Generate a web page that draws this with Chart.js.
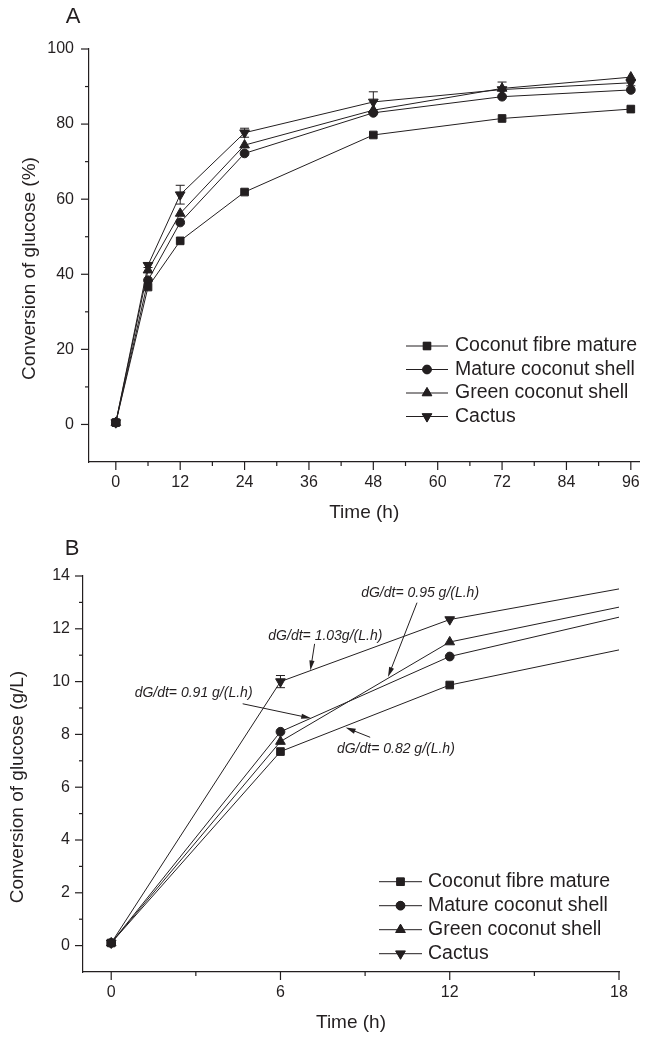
<!DOCTYPE html>
<html>
<head>
<meta charset="utf-8">
<script src="https://cdn.jsdelivr.net/npm/chart.js@4.4.1/dist/chart.umd.min.js"></script>
<style>
  body { margin: 0; background: #fff; }
  .panel { position: absolute; left: 0; }
</style>
</head>
<body>
<div class="panel" style="top:0"><canvas id="chartA" width="646" height="525"></canvas></div>
<div class="panel" style="top:525px"><canvas id="chartB" width="646" height="513"></canvas></div>
<script>
const INK = '#231f20';
const FONT = '"Liberation Sans", Arial, Helvetica, sans-serif';

const SERIES_NAMES = ['Coconut fibre mature', 'Mature coconut shell', 'Green coconut shell', 'Cactus'];

// --- panel A: conversion (%) vs time ---
const timeA = [0, 6, 12, 24, 48, 72, 96];
const fibreA  = [0.5, 36.6, 48.9, 61.9, 77.1, 81.5, 84.0];
const matureA = [0.5, 38.4, 53.8, 72.2, 83.0, 87.3, 89.1];
const greenA  = [0.5, 41.1, 56.2, 74.4, 83.7, 89.5, 92.5];
const cactusA = [0.5, 42.4, 61.2, 77.7, 85.9, 89.2, 91.0];
const cactusErrA = [0.4, 0.6, 2.5, 1.2, 2.7, 2.0, 0.8];
const xMajorA = [0, 12, 24, 36, 48, 60, 72, 84, 96];
const xMinorA = [6, 18, 30, 42, 54, 66, 78, 90];
const yMajorA = [0, 20, 40, 60, 80, 100];
const yMinorA = [10, 30, 50, 70, 90];

// --- panel B: conversion (g/L), first 18 h ---
const timeB = [0, 6, 12, 18];
const fibreB  = [0.1, 7.35, 9.87, 11.2];
const matureB = [0.1, 8.1, 10.95, 12.44];
const greenB  = [0.1, 7.73, 11.5, 12.82];
const cactusB = [0.1, 10.0, 12.35, 13.51];
const cactusErrB = [0.1, 0.23, 0, 0];
const xMajorB = [0, 6, 12, 18];
const xMinorB = [3, 9, 15];
const yMajorB = [0, 2, 4, 6, 8, 10, 12, 14];
const yMinorB = [1, 3, 5, 7, 9, 11, 13];

const rateLabels = ['dG/dt= 0.95 g/(L.h)', 'dG/dt= 1.03g/(L.h)', 'dG/dt= 0.91 g/(L.h)', 'dG/dt= 0.82 g/(L.h)'];
// where each label sits and what its arrow points at (data coords)
const rateNotes = [
  { text: rateLabels[0], at: [10.95, 13.35], from: [10.84, 12.99], to: [9.81, 10.17] },
  { text: rateLabels[1], at: [7.59, 11.73], from: [7.21, 11.43], to: [7.06, 10.42] },
  { text: rateLabels[2], at: [2.92, 9.58], from: [4.66, 9.16], to: [7.09, 8.61] },
  { text: rateLabels[3], at: [10.09, 7.44], from: [9.18, 7.89], to: [8.31, 8.26] }
];

const MARKERS = [
  { style: 'rect', r: 5.4, rot: 0 },
  { style: 'circle', r: 4.4, rot: 0 },
  { style: 'triangle', r: 5.6, rot: 0 },
  { style: 'triangle', r: 5.6, rot: 180 }
];

function makeDatasets(t, series, noLastMarker) {
  return series.map((vals, i) => ({
    label: SERIES_NAMES[i],
    data: vals.map((v, k) => ({ x: t[k], y: v })),
    borderColor: INK,
    backgroundColor: INK,
    borderWidth: 1,
    pointStyle: MARKERS[i].style,
    rotation: MARKERS[i].rot,
    pointRadius: noLastMarker ? vals.map((v, k) => k === vals.length - 1 ? 0 : MARKERS[i].r) : MARKERS[i].r,
    pointBorderWidth: 1,
    tension: 0
  }));
}

function makeDecor(cfg) {
  return {
    id: 'decor',
    beforeDatasetsDraw(chart) {
      const { ctx, scales: { x, y } } = chart;
      ctx.save();
      ctx.strokeStyle = INK;
      ctx.lineWidth = 1;
      cfg.errors.forEach((e, k) => {
        if (!e) return;
        const px = x.getPixelForValue(cfg.time[k]);
        const v = cfg.errSeries[k];
        const top = y.getPixelForValue(v + e), bot = y.getPixelForValue(v - e);
        ctx.beginPath();
        ctx.moveTo(px, top); ctx.lineTo(px, bot);
        ctx.moveTo(px - 4.5, top); ctx.lineTo(px + 4.5, top);
        ctx.moveTo(px - 4.5, bot); ctx.lineTo(px + 4.5, bot);
        ctx.stroke();
      });
      ctx.restore();
    },
    afterDraw(chart) {
      const { ctx, chartArea: a, scales: { x, y } } = chart;
      ctx.save();
      ctx.strokeStyle = INK;
      ctx.fillStyle = INK;
      ctx.lineWidth = 1.2;

      // tick marks, outward
      const tick = (vals, len, horiz) => vals.forEach(v => {
        ctx.beginPath();
        if (horiz) {
          const px = x.getPixelForValue(v);
          ctx.moveTo(px, a.bottom); ctx.lineTo(px, a.bottom + len);
        } else {
          const py = y.getPixelForValue(v);
          ctx.moveTo(a.left, py); ctx.lineTo(a.left - len, py);
        }
        ctx.stroke();
      });
      tick(cfg.xMajor, 8, true);
      tick(cfg.xMinor, 4, true);
      tick(cfg.yMajor, 8, false);
      tick(cfg.yMinor, 4, false);

      // axis titles
      ctx.font = '19px ' + FONT;
      ctx.textAlign = 'center';
      ctx.textBaseline = 'middle';
      ctx.fillText('Time (h)', (a.left + a.right) / 2, cfg.xTitleY);
      ctx.save();
      ctx.translate(cfg.yTitleX, (a.top + a.bottom) / 2 + 13);
      ctx.rotate(-Math.PI / 2);
      ctx.fillText(cfg.yTitle, 0, 0);
      ctx.restore();

      // panel letter
      ctx.font = '22px ' + FONT;
      ctx.fillText(cfg.letter, cfg.letterPos[0], cfg.letterPos[1]);

      // legend
      const lg = cfg.legend;
      ctx.font = '19.5px ' + FONT;
      ctx.textAlign = 'left';
      chart.data.datasets.forEach((ds, i) => {
        const ry = lg.top + i * lg.step;
        ctx.lineWidth = 1;
        ctx.beginPath();
        ctx.moveTo(lg.x0, ry); ctx.lineTo(lg.x1, ry);
        ctx.stroke();
        Chart.helpers.drawPoint(ctx, {
          pointStyle: MARKERS[i].style, rotation: MARKERS[i].rot,
          radius: MARKERS[i].r, borderWidth: 1
        }, (lg.x0 + lg.x1) / 2, ry);
        ctx.fill();
        ctx.fillText(ds.label, lg.textX, ry);
      });

      // rate annotations with arrows
      ctx.font = 'italic 14px ' + FONT;
      ctx.textAlign = 'center';
      (cfg.notes || []).forEach(n => {
        ctx.fillText(n.text, x.getPixelForValue(n.at[0]), y.getPixelForValue(n.at[1]));
        const x0 = x.getPixelForValue(n.from[0]), y0 = y.getPixelForValue(n.from[1]);
        const x1 = x.getPixelForValue(n.to[0]), y1 = y.getPixelForValue(n.to[1]);
        const ang = Math.atan2(y1 - y0, x1 - x0);
        ctx.lineWidth = 1;
        ctx.beginPath();
        ctx.moveTo(x0, y0); ctx.lineTo(x1 - Math.cos(ang) * 6, y1 - Math.sin(ang) * 6);
        ctx.stroke();
        ctx.beginPath();
        ctx.moveTo(x1, y1);
        ctx.lineTo(x1 - Math.cos(ang) * 10 + Math.sin(ang) * 2.6, y1 - Math.sin(ang) * 10 - Math.cos(ang) * 2.6);
        ctx.lineTo(x1 - Math.cos(ang) * 10 - Math.sin(ang) * 2.6, y1 - Math.sin(ang) * 10 + Math.cos(ang) * 2.6);
        ctx.closePath();
        ctx.fill();
      });
      ctx.restore();
    }
  };
}

function makeOptions(cfg) {
  const tickFont = { family: FONT, size: 16 };
  return {
    responsive: false,
    animation: false,
    devicePixelRatio: 1,
    layout: { padding: cfg.padding },
    plugins: { legend: { display: false }, tooltip: { enabled: false } },
    scales: {
      x: {
        type: 'linear', min: cfg.xMin, max: cfg.xMax,
        grid: { display: false, drawTicks: true, tickLength: 8 },
        border: { display: true, color: INK, width: 1.2 },
        ticks: { font: tickFont, color: INK, padding: cfg.xPad, maxRotation: 0, autoSkip: false },
        afterBuildTicks: s => { s.ticks = cfg.xMajor.map(v => ({ value: v })); },
        afterFit: s => { s.height = 30; }
      },
      y: {
        type: 'linear', min: cfg.yMin, max: cfg.yMax,
        grid: { display: false, drawTicks: true, tickLength: 8 },
        border: { display: true, color: INK, width: 1.2 },
        ticks: { font: tickFont, color: INK, padding: cfg.yPad, autoSkip: false },
        afterBuildTicks: s => { s.ticks = cfg.yMajor.map(v => ({ value: v })); },
        afterFit: s => { s.width = cfg.yWidth; }
      }
    }
  };
}

const cfgA = {
  time: timeA, errSeries: cactusA, errors: cactusErrA,
  xMajor: xMajorA, xMinor: xMinorA, yMajor: yMajorA, yMinor: yMinorA,
  xMin: -5, xMax: 97.6, yMin: -10, yMax: 100,
  padding: { top: 49, right: 1, bottom: 33, left: 0 }, yWidth: 89, xPad: 3, yPad: 7,
  xTitleY: 513, yTitleX: 29.5, yTitle: 'Conversion of glucose (%)',
  letter: 'A', letterPos: [73, 17],
  legend: { x0: 406, x1: 448, textX: 455, top: 346, step: 23.5 }
};

const cfgB = {
  time: timeB, errSeries: cactusB, errors: cactusErrB,
  xMajor: xMajorB, xMinor: xMinorB, yMajor: yMajorB, yMinor: yMinorB,
  xMin: -1, xMax: 18, yMin: -1, yMax: 14,
  padding: { top: 51, right: 27, bottom: 36, left: 0 }, yWidth: 83, xPad: 3, yPad: 5,
  xTitleY: 498, yTitleX: 17.5, yTitle: 'Conversion of glucose (g/L)',
  letter: 'B', letterPos: [72, 23.5],
  legend: { x0: 379, x1: 422, textX: 428, top: 356.7, step: 24 },
  notes: rateNotes
};

new Chart(document.getElementById('chartA'), {
  type: 'line',
  data: { datasets: makeDatasets(timeA, [fibreA, matureA, greenA, cactusA], false) },
  options: makeOptions(cfgA),
  plugins: [makeDecor(cfgA)]
});

new Chart(document.getElementById('chartB'), {
  type: 'line',
  data: { datasets: makeDatasets(timeB, [fibreB, matureB, greenB, cactusB], true) },
  options: makeOptions(cfgB),
  plugins: [makeDecor(cfgB)]
});
</script>
</body>
</html>
